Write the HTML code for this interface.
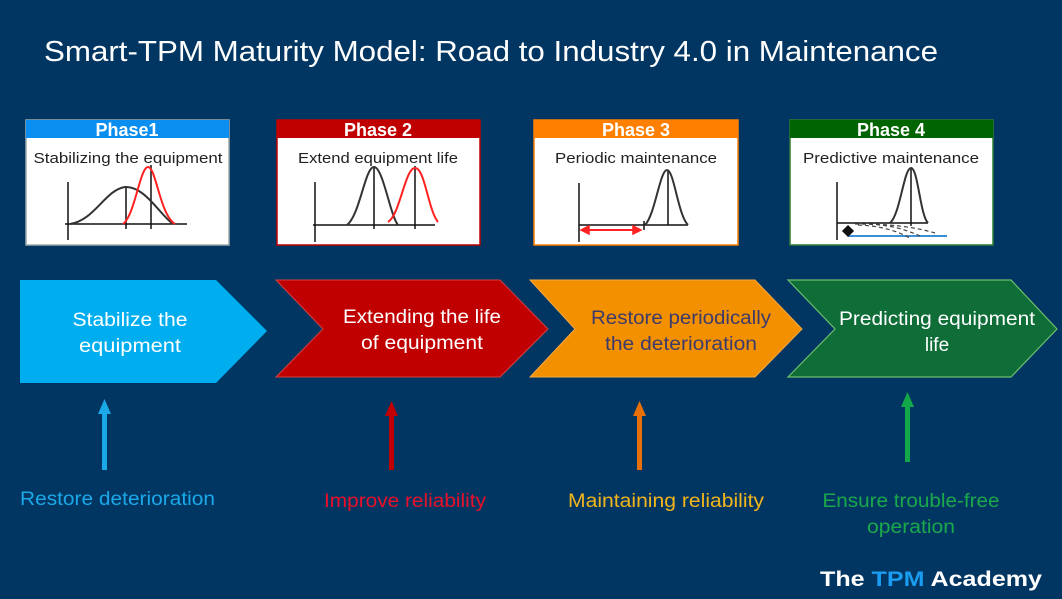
<!DOCTYPE html>
<html><head><meta charset="utf-8"><style>
html,body{margin:0;padding:0;background:#023662;}
svg{display:block;font-family:"Liberation Sans",sans-serif;}
</style></head><body>
<svg width="1062" height="599" viewBox="0 0 1062 599" xmlns="http://www.w3.org/2000/svg">
<rect width="1062" height="599" fill="#023662"/>
<text x="44" y="61" font-size="29" fill="#fff" textLength="894" lengthAdjust="spacingAndGlyphs">Smart-TPM Maturity Model: Road to Industry 4.0 in Maintenance</text>

<!-- Phase boxes -->
<g font-size="15" fill="#222" text-anchor="middle">
<rect x="26" y="120" width="203" height="125" fill="#fff" stroke="#9aa" stroke-width="1.5"/>
<rect x="26" y="120" width="203" height="18" fill="#0a8ef0"/>
<text x="127" y="136" font-size="18" font-weight="bold" fill="#fff">Phase1</text>
<text x="128" y="163" textLength="189" lengthAdjust="spacingAndGlyphs">Stabilizing the equipment</text>

<rect x="277" y="120" width="203" height="125" fill="#fff" stroke="#c00000" stroke-width="1.5"/>
<rect x="277" y="120" width="203" height="18" fill="#c00000"/>
<text x="378" y="136" font-size="18" font-weight="bold" fill="#fff">Phase 2</text>
<text x="378" y="163" textLength="160" lengthAdjust="spacingAndGlyphs">Extend equipment life</text>

<rect x="534" y="120" width="204" height="125" fill="#fff" stroke="#ff7f00" stroke-width="1.5"/>
<rect x="534" y="120" width="204" height="18" fill="#ff7f00"/>
<text x="636" y="136" font-size="18" font-weight="bold" fill="#fff">Phase 3</text>
<text x="636" y="163" textLength="162" lengthAdjust="spacingAndGlyphs">Periodic maintenance</text>

<rect x="790" y="120" width="203" height="125" fill="#fff" stroke="#2e7d32" stroke-width="1.5"/>
<rect x="790" y="120" width="203" height="18" fill="#006400"/>
<text x="891" y="136" font-size="18" font-weight="bold" fill="#fff">Phase 4</text>
<text x="891" y="163" textLength="176" lengthAdjust="spacingAndGlyphs">Predictive maintenance</text>
</g>

<!-- charts -->
<g fill="none" stroke-width="1.5">
<g stroke="#111">
<path d="M68 182V240M65 224H187M126 187V229M151 165V229"/>
<path d="M315 182V242M313 225H435M374 167V229M415 166V229"/>
<path d="M579 183V242M579 225H688M668 170V225M644 221V230"/>
<path d="M837 182V240M837 223H928M911 168V226"/>
</g>
<path d="M70 224 C95 220 105 190 125 187 C145 186 160 215 173 224" stroke="#333" stroke-width="2"/>
<path d="M123 224 C135 215 140 167 148 167 C156 167 160 215 175 224" stroke="#f22" stroke-width="2"/>
<path d="M347 225 C360 215 365 167 374 167 C383 167 390 215 398 225" stroke="#333" stroke-width="2"/>
<path d="M388 222 C400 215 405 168 415 168 C425 168 428 210 438 222" stroke="#f22" stroke-width="2"/>
<path d="M645 225 C655 215 660 170 667 170 C674 170 678 215 688 225" stroke="#333" stroke-width="2"/>
<path d="M890 223 C900 215 904 168 911 168 C918 168 920 215 928 223" stroke="#333" stroke-width="2"/>
<path d="M586 230H636" stroke="#f22" stroke-width="2"/>
<path d="M581 230L589 226V234Z M641 230L633 226V234Z" fill="#f22" stroke="#f22"/>
<path d="M848 236H947" stroke="#3a8fd6" stroke-width="2"/>
<path d="M848 226l5 5-5 5-5-5z" fill="#111" stroke="#111"/>
<path d="M855 224 C885 224 900 227 920 236M858 225 C880 226 895 230 910 238M862 224 C890 224 915 227 935 233" stroke="#444" stroke-dasharray="4 3" stroke-width="1.2"/>
</g>

<!-- chevrons -->
<polygon points="20,280 216,280 267,331 216,383 20,383" fill="#00aef0"/>
<polygon points="276,280 500,280 548,329 500,377 276,377 323,329" fill="#c00000" stroke="#d84040" stroke-width="1"/>
<polygon points="530,280 755,280 802,329 755,377 530,377 575,329" fill="#f39000" stroke="#f8a840" stroke-width="1"/>
<polygon points="788,280 1011,280 1057,329 1011,377 788,377 835,329" fill="#0f6e38" stroke="#6cbf6c" stroke-width="1.2"/>

<g font-size="19" text-anchor="middle" fill="#fff">
<text x="130" y="326" textLength="115" lengthAdjust="spacingAndGlyphs">Stabilize the</text>
<text x="130" y="352" textLength="102" lengthAdjust="spacingAndGlyphs">equipment</text>
<text x="422" y="323" textLength="158" lengthAdjust="spacingAndGlyphs">Extending the life</text>
<text x="422" y="349" textLength="122" lengthAdjust="spacingAndGlyphs">of equipment</text>
<text x="681" y="324" fill="#3d3b6b" textLength="180" lengthAdjust="spacingAndGlyphs">Restore periodically</text>
<text x="681" y="350" fill="#3d3b6b" textLength="152" lengthAdjust="spacingAndGlyphs">the deterioration</text>
<text x="937" y="325" textLength="196" lengthAdjust="spacingAndGlyphs">Predicting equipment</text>
<text x="937" y="351">life</text>
</g>

<!-- up arrows -->
<g>
<rect x="102" y="412" width="5" height="58" fill="#1aa8e8"/><polygon points="104.5,399 98,414 111,414" fill="#1aa8e8"/>
<rect x="389" y="414" width="5" height="56" fill="#c00000"/><polygon points="391.5,401 385,416 398,416" fill="#c00000"/>
<rect x="637" y="414" width="5" height="56" fill="#e8700a"/><polygon points="639.5,401 633,416 646,416" fill="#e8700a"/>
<rect x="905" y="405" width="5" height="57" fill="#12a84a"/><polygon points="907.5,392 901,407 914,407" fill="#12a84a"/>
</g>

<g font-size="19">
<text x="20" y="505" fill="#1ba8e8" textLength="195" lengthAdjust="spacingAndGlyphs">Restore deterioration</text>
<text x="324" y="507" fill="#e8102a" textLength="162" lengthAdjust="spacingAndGlyphs">Improve reliability</text>
<text x="568" y="507" fill="#f2b51a" textLength="196" lengthAdjust="spacingAndGlyphs">Maintaining reliability</text>
<text x="911" y="507" fill="#1aa94a" text-anchor="middle" textLength="177" lengthAdjust="spacingAndGlyphs">Ensure trouble-free</text>
<text x="911" y="533" fill="#1aa94a" text-anchor="middle" textLength="88" lengthAdjust="spacingAndGlyphs">operation</text>
</g>

<text x="820" y="586" font-size="21" font-weight="bold" fill="#fff" textLength="222" lengthAdjust="spacingAndGlyphs">The <tspan fill="#1a9cf0">TPM</tspan> Academy</text>
</svg>
</body></html>
